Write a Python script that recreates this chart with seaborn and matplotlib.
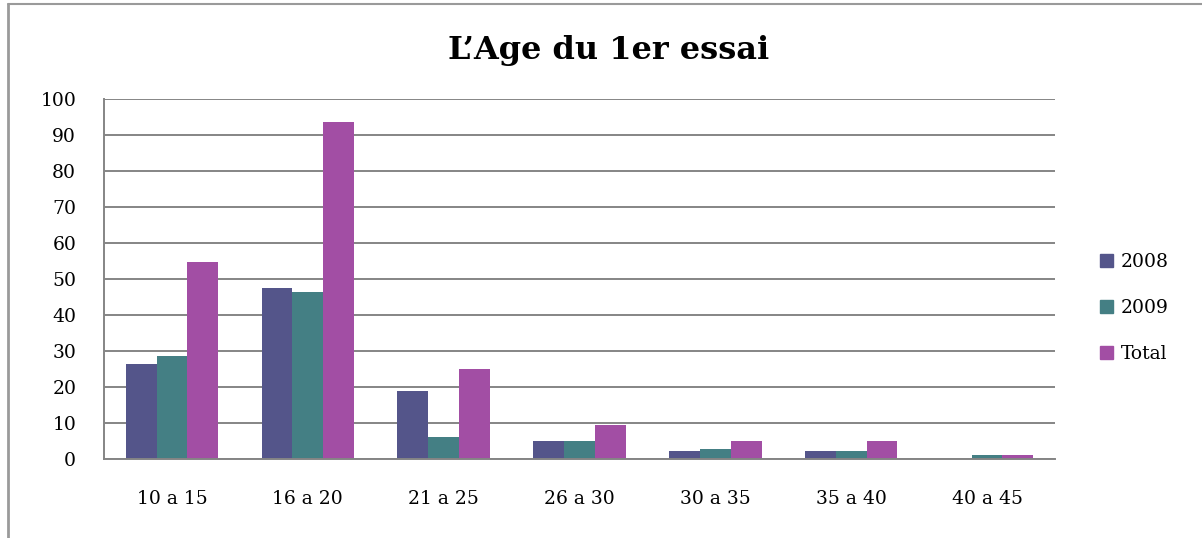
import pandas as pd
import matplotlib.pyplot as plt
import seaborn as sns
from matplotlib.lines import Line2D

# data
age_groups = ["10 a 15", "16 a 20", "21 a 25", "26 a 30", "30 a 35", "35 a 40", "40 a 45"]
values_2008 = [26.3, 47.4, 19.0, 5.1, 2.3, 2.3, 0.0]
values_2009 = [28.5, 46.3, 6.2, 5.1, 2.9, 2.3, 1.2]
values_total = [54.6, 93.6, 25.1, 9.5, 5.1, 5.1, 1.2]
series_names = ["2008", "2009", "Total"]
colors = ["#54558A", "#447F84", "#A24EA4"]

df = pd.DataFrame({
    "Age": age_groups * 3,
    "Serie": [s for s in series_names for _ in age_groups],
    "Valeur": values_2008 + values_2009 + values_total,
})

sns.set_style("white")
plt.rcParams["font.family"] = ["DejaVu Serif"]
plt.rcParams["text.color"] = "black"
plt.rcParams["xtick.labelcolor"] = "black"
plt.rcParams["ytick.labelcolor"] = "black"

grid_col = "#858585"

fig = plt.figure(figsize=(12.02, 5.38), dpi=100)
ax = fig.add_axes([104 / 1202, 79 / 538, 951 / 1202, 360 / 538])

sns.barplot(
    data=df, x="Age", y="Valeur", hue="Serie",
    order=age_groups, hue_order=series_names,
    palette=dict(zip(series_names, colors)),
    width=0.68, gap=0, saturation=1, linewidth=0,
    ax=ax, zorder=3,
)

ax.set_xlim(-0.5, len(age_groups) - 0.5)
ax.set_ylim(0, 100)
ax.set_yticks(range(0, 101, 10))
ax.set_xlabel("")
ax.set_ylabel("")

# grid lines
ax.yaxis.grid(True, color=grid_col, linewidth=1.4)
ax.set_axisbelow(True)

for side in ["top", "right"]:
    ax.spines[side].set_visible(False)
for side in ["left", "bottom"]:
    ax.spines[side].set_color(grid_col)
    ax.spines[side].set_linewidth(1.4)
    ax.spines[side].set_zorder(4)

# x ticks between categories
ax.set_xticks([i - 0.5 for i in range(len(age_groups) + 1)], minor=True)
ax.tick_params(axis="x", which="minor", length=6, width=1.4, color=grid_col, direction="out")
ax.tick_params(axis="x", which="major", length=0, pad=22, labelsize=13.5)
ax.tick_params(axis="y", length=6, width=1.4, color=grid_col, direction="out", pad=14, labelsize=13.5)

fig.text(609 / 1202, 488 / 538, "L\u2019Age du 1er essai", fontsize=23, fontweight="bold",
         ha="center", va="center", color="black")

# legend
ax.get_legend().remove()
fig.legend(
    loc="center left", bbox_to_anchor=(1083 / 1202, 230 / 538),
    frameon=False, fontsize=13.5,
    handlelength=0.7, handleheight=0.7, handletextpad=0.4, labelspacing=1.5,
    handles=[plt.Rectangle((0, 0), 1, 1, color=c) for c in colors],
    labels=series_names,
)

# chart frame (left and top edges visible)
fig.add_artist(Line2D([8 / 1202, 8 / 1202], [0, 534 / 538], transform=fig.transFigure,
                      color="#9a9a9a", linewidth=2))
fig.add_artist(Line2D([8 / 1202, 1], [534 / 538, 534 / 538], transform=fig.transFigure,
                      color="#9a9a9a", linewidth=1.5))

fig.savefig("out.png", dpi=100)
